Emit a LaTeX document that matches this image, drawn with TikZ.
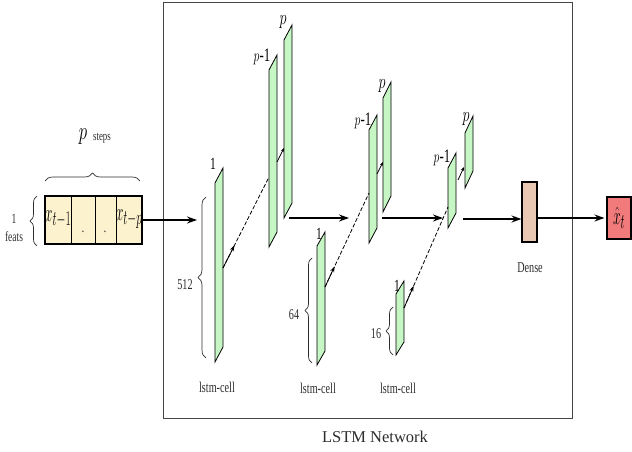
\documentclass[tikz,border=0pt]{standalone}
\usepackage{fontspec}
\setmainfont{Liberation Serif}
\usepackage{graphicx}
\usetikzlibrary{arrows.meta,decorations.pathreplacing,calc}
\definecolor{slabgreen}{RGB}{198,246,196}
\definecolor{infill}{RGB}{253,242,206}
\definecolor{densefill}{RGB}{232,200,178}
\definecolor{outfill}{RGB}{241,122,122}
\definecolor{framegray}{RGB}{70,70,70}
\definecolor{txtgray}{RGB}{45,45,45}
\newcommand{\sqz}[2]{\scalebox{0.68}[1]{\fontsize{#1}{#1}\selectfont #2}}
\newcommand{\sqm}[2]{\scalebox{0.55}[1]{\fontsize{#1}{#1}\selectfont #2}}
\newcommand{\mkslab}[6]{%
  \coordinate (#1-tl) at (#2,#3);
  \coordinate (#1-bl) at (#2,#4);
  \coordinate (#1-tr) at ({#2+#6},{#3-#5});
  \coordinate (#1-br) at ({#2+#6},{#4-#5});
  \draw[slab] (#1-tl) -- (#1-tr) -- (#1-br) -- (#1-bl) -- cycle;
}
\begin{document}
\begin{tikzpicture}[x=1pt,y=-1pt,
  slab/.style={fill=slabgreen,draw=black,line width=0.8pt,line join=miter},
  mainarrow/.style={-{Stealth[length=10pt,width=7pt]},line width=1.4pt},
  dasharrow/.style={line width=0.8pt,dash pattern=on 4pt off 2pt},
  headarrow/.style={-{Stealth[length=6pt,width=4pt]},line width=0.8pt},
  smallarrow/.style={-{Stealth[length=4pt,width=3pt]},line width=0.8pt},
  lbl/.style={inner sep=0pt,text=txtgray},
  plbl/.style={inner sep=0pt,text=black},
  bracestyle/.style={decorate,line width=0.7pt,draw=txtgray},
]
\useasboundingbox (0,0) rectangle (632,452);

% outer frame
\node[draw=framegray,line width=0.9pt,minimum width=409pt,minimum height=416pt,inner sep=0pt] (frame) at (367.5,210) {};
\node[lbl] (net) at (375,437) {\fontsize{16.5}{16.5}\selectfont LSTM Network};

% input block
\node[draw=black,line width=1.5pt,fill=infill,minimum width=97pt,minimum height=48pt,inner sep=0pt] (inbox) at (93.5,220) {};
\draw[line width=0.9pt] (71,196) -- (71,244) (95,196) -- (95,244) (116,196) -- (116,244);
\node[plbl] (x1) at (58,219) {\sqm{30}{$x_{t-1}$}};
\node[plbl] (d1) at (83,232) {\sqz{14}{.}};
\node[plbl] (d2) at (105,232) {\sqz{14}{.}};
\node[plbl] (xp) at (129,219) {\sqm{30}{$x_{t-p}$}};
\draw[bracestyle,decoration={brace,amplitude=8pt}] (45,181) -- (140,181);
\node[plbl] (psym) at (83,137) {\sqz{24}{$p$}};
\node[lbl] (steps) at (102,138) {\sqz{13}{steps}};
\draw[bracestyle,decoration={brace,amplitude=7pt}] (37,246) -- (37,196);
\node[lbl] (one) at (14,219) {\sqz{14}{1}};
\node[lbl] (feats) at (14,237) {\sqz{14}{feats}};

% layer 1
\mkslab{a1}{215}{183}{362}{15}{8}
\mkslab{ap1}{269}{70}{247}{15}{8}
\mkslab{ap}{284}{40}{218}{15}{8}
\node[plbl] (la1) at (213,164) {\sqz{17}{1}};
\node[plbl] (lap1) at (262,57) {\sqz{19}{$p$-1}};
\node[plbl] (lap) at (283,22) {\sqz{21}{$p$}};
\draw[bracestyle,decoration={brace,amplitude=8pt}] (206,358) -- (206,197);
\node[lbl] (n512) at (185,285) {\sqz{15}{512}};
\node[lbl] (c1) at (217,387) {\sqz{15}{lstm-cell}};

% layer 2
\mkslab{b1}{317}{246}{365}{14}{8}
\mkslab{bp1}{369}{130}{243}{15}{8}
\mkslab{bp}{383}{98}{212}{16}{8}
\node[plbl] (lb1) at (319,234) {\sqz{17}{1}};
\node[plbl] (lbp1) at (363,121) {\sqz{19}{$p$-1}};
\node[plbl] (lbp) at (382,86) {\sqz{21}{$p$}};
\draw[bracestyle,decoration={brace,amplitude=7pt}] (312,363) -- (312,258);
\node[lbl] (n64) at (294,315) {\sqz{15}{64}};
\node[lbl] (c2) at (318,388) {\sqz{15}{lstm-cell}};

% layer 3
\mkslab{c31}{396}{294}{355}{13}{8}
\mkslab{cp1}{448}{168}{228}{15}{8}
\mkslab{cp}{465}{133}{188}{17}{8}
\node[plbl] (lc1) at (397,286) {\sqz{17}{1}};
\node[plbl] (lcp1) at (442,158) {\sqz{19}{$p$-1}};
\node[plbl] (lcp) at (466,119) {\sqz{21}{$p$}};
\draw[bracestyle,decoration={brace,amplitude=7pt}] (393,355) -- (393,307);
\node[lbl] (n16) at (376,334) {\sqz{15}{16}};
\node[lbl] (c3) at (398,388) {\sqz{15}{lstm-cell}};

% dense and output
\node[draw=black,line width=1.1pt,fill=densefill,minimum width=15pt,minimum height=60pt,inner sep=0pt] (dense) at (529.5,212) {};
\node[lbl] (densel) at (530,268) {\sqz{15}{Dense}};
\node[draw=black,line width=1.1pt,fill=outfill,minimum width=24pt,minimum height=42pt,inner sep=0pt] (out) at (619,218) {\sqm{30}{$\hat{x}_t$}};

% dashed recurrent connectors
\coordinate (d1s) at (223,268); \coordinate (d1e) at (269,177);
\draw[dasharrow] (d1s) -- (d1e);
\draw[headarrow] (d1s) -- ($(d1s)!0.25!(d1e)$);
\coordinate (d2s) at (325,287); \coordinate (d2e) at (369,193);
\draw[dasharrow] (d2s) -- (d2e);
\draw[headarrow] (d2s) -- ($(d2s)!0.22!(d2e)$);
\coordinate (d3s) at (404,308); \coordinate (d3e) at (448,207);
\draw[dasharrow] (d3s) -- (d3e);
\draw[headarrow] (d3s) -- ($(d3s)!0.22!(d3e)$);

% short p-1 -> p connectors
\coordinate (s1s) at (277,162); \coordinate (s1e) at (284,148);
\draw[smallarrow] (s1s) -- (s1e);
\coordinate (s2s) at (377,174); \coordinate (s2e) at (383,162);
\draw[smallarrow] (s2s) -- (s2e);
\coordinate (s3s) at (458,180); \coordinate (s3e) at (464,167);
\draw[smallarrow] (s3s) -- (s3e);

% main arrows
\coordinate (m0e) at (197,220);
\draw[mainarrow] (inbox.east) -- (m0e);
\coordinate (m1s) at (289,218); \coordinate (m1e) at (349,218);
\draw[mainarrow] (m1s) -- (m1e);
\coordinate (m2s) at (382,218); \coordinate (m2e) at (443,218);
\draw[mainarrow] (m2s) -- (m2e);
\coordinate (m3s) at (463,219);
\draw[mainarrow] (m3s) -- (dense.west |- m3s);
\draw[mainarrow] (dense.east |- out.west) -- ([xshift=-2pt]out.west);
\end{tikzpicture}
\end{document}
